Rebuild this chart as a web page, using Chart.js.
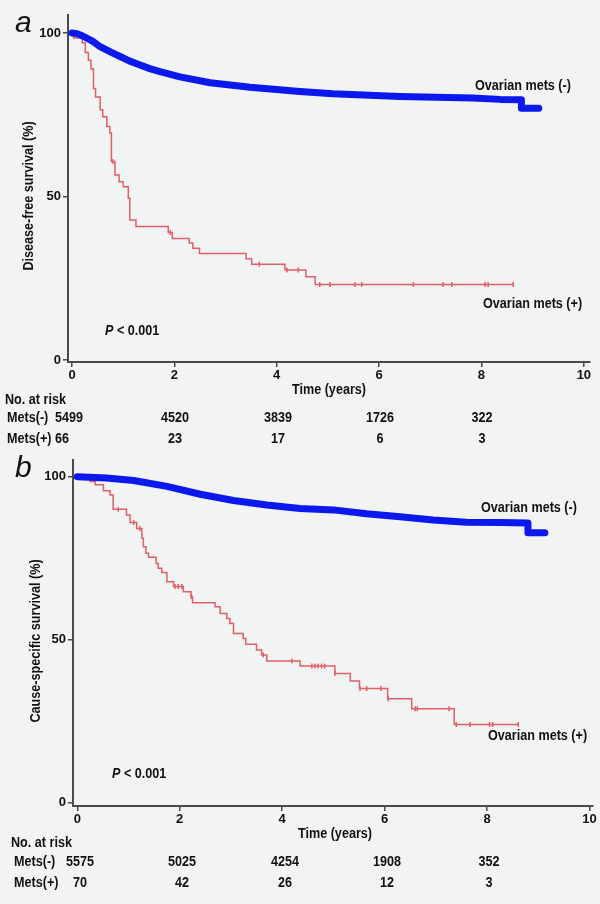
<!DOCTYPE html>
<html>
<head>
<meta charset="utf-8">
<script src="https://cdn.jsdelivr.net/npm/chart.js@4.4.1/dist/chart.umd.min.js"></script>
<style>
  body { margin: 0; background: #f2f3f3; }
  #wrap { position: relative; width: 600px; height: 904px; overflow: hidden;
          font-family: "Liberation Sans", Arial, sans-serif; font-weight: bold; font-size: 14px; color: #111; }
  canvas { position: absolute; left: 0; }
  .t { position: absolute; line-height: 1; white-space: nowrap; transform-origin: 0 50%; transform: scaleX(0.9); }
  .c { transform-origin: 50% 50%; transform: translateX(-50%) scaleX(0.9); }
  .rot { transform-origin: 50% 50%; transform: translate(-50%, -50%) rotate(-90deg) scaleX(0.9); }
  .panel { font-style: italic; font-weight: normal; font-size: 30px; transform: none; }
</style>
</head>
<body>
<div id="wrap">
  <canvas id="chartA" width="600" height="382" style="top:0"></canvas>
  <canvas id="chartB" width="600" height="386" style="top:440px"></canvas>
</div>
<script>
// ── data ────────────────────────────────────────────────────────────────────
const xTicks = [0, 2, 4, 6, 8, 10];
const yTicks = [0, 50, 100];

// (a) disease-free survival
const dfsNegT = [0, 0.1, 0.22, 0.4, 0.55, 0.75, 0.94, 1.13, 1.33, 1.52, 1.72, 2.11, 2.7, 3.48, 4.45, 5.1, 6.4, 7.83, 8.36, 8.78, 8.78, 9.12];
const dfsNegV = [100, 99.8, 99, 97.5, 95.8, 94.2, 92.8, 91.4, 90.2, 89.1, 88.2, 86.6, 84.8, 83.4, 82.1, 81.4, 80.6, 80.1, 79.7, 79.6, 77, 77];
const dfsPosT = [0, 0.03, 0.2, 0.26, 0.32, 0.37, 0.42, 0.46, 0.55, 0.6, 0.68, 0.74, 0.77, 0.84, 0.92, 1.0, 1.1, 1.13, 1.25, 1.88, 1.96, 2.29, 2.36, 2.49, 3.4, 3.51, 4.16, 4.57, 4.75, 8.62];
const dfsPosV = [100, 98.5, 97, 94, 91.7, 89, 83, 80.4, 76.5, 74.4, 71.4, 69.4, 60.7, 56.6, 54.5, 53, 49.5, 42.8, 40.8, 39, 37.2, 35.8, 34.2, 32.6, 31, 29.3, 27.5, 25.5, 23.1, 23.1];
const dfsPosCensor = [0.8, 1.92, 3.66, 4.2, 4.42, 4.84, 5.04, 5.53, 5.66, 6.67, 7.25, 7.42, 8.07, 8.13, 8.62];

// (b) cause-specific survival
const cssNegT = [0, 0.57, 1.1, 1.75, 2.4, 3.05, 3.7, 4.35, 5.0, 5.65, 6.3, 6.95, 7.6, 8.26, 8.8, 8.8, 9.13];
const cssNegV = [100, 99.6, 98.8, 97, 94.6, 92.7, 91.3, 90.2, 89.8, 88.6, 87.7, 86.7, 86.0, 85.9, 85.8, 82.8, 82.8];
const cssPosT = [0, 0.25, 0.35, 0.51, 0.64, 0.7, 0.96, 1.03, 1.16, 1.26, 1.29, 1.34, 1.39, 1.54, 1.58, 1.65, 1.75, 1.88, 2.07, 2.22, 2.25, 2.69, 2.79, 2.92, 2.98, 3.05, 3.24, 3.29, 3.5, 3.6, 3.7, 4.35, 5.03, 5.33, 5.51, 6.06, 6.53, 7.36, 8.61];
const cssPosV = [100, 98.5, 97.5, 95.7, 94.4, 90, 88.2, 85.9, 84.1, 81.1, 78.5, 76.5, 75.3, 73.4, 71.9, 70.6, 67.8, 66.3, 64.7, 63.2, 61.3, 60.1, 58, 56.5, 55, 51.9, 50.4, 48.6, 46.8, 45.3, 43.5, 41.9, 39.6, 37.3, 35, 31.9, 28.8, 24, 24];
const cssPosCensor = [0.8, 1.1, 1.22, 1.91, 1.97, 2.04, 2.23, 3.63, 4.19, 4.58, 4.64, 4.7, 4.77, 4.83, 5.03, 5.52, 5.65, 5.93, 6.07, 6.6, 6.64, 7.26, 7.4, 7.67, 8.05, 8.11, 8.61];

// numbers at risk
const riskTimes  = [0, 2, 4, 6, 8];
const dfsRiskNeg = [5499, 4520, 3839, 1726, 322];
const dfsRiskPos = [66, 23, 17, 6, 3];
const cssRiskNeg = [5575, 5025, 4254, 1908, 352];
const cssRiskPos = [70, 42, 26, 12, 3];

// ── drawing ─────────────────────────────────────────────────────────────────
const BLUE = '#0b18ee', RED = '#e05f69', AXIS = '#4a4a4a', INK = '#111';
const wrap = document.getElementById('wrap');

const pts = (ts, vs) => ts.map((t, i) => ({ x: t, y: vs[i] }));
function valueAt(ts, vs, t) {
  let v = vs[0];
  for (let i = 0; i < ts.length; i++) if (ts[i] <= t + 1e-9) v = vs[i];
  return v;
}

function kmChart(id, negT, negV, posT, posV, censor, r) {
  const tickFont = { family: '"Liberation Sans", Arial, sans-serif', size: 13, weight: 'bold' };
  return new Chart(document.getElementById(id), {
    type: 'line',
    data: {
      datasets: [
        { data: pts(negT, negV), borderColor: BLUE, borderWidth: 7, pointRadius: 0,
          borderCapStyle: 'round', borderJoinStyle: 'round' },
        { type: 'scatter', data: censor.map(t => ({ x: t, y: valueAt(posT, posV, t) })),
          pointStyle: 'line', rotation: 90, pointRadius: 2.5, borderColor: RED, borderWidth: 1.5 },
        { data: pts(posT, posV), borderColor: RED, borderWidth: 1.5, stepped: true, pointRadius: 0 }
      ]
    },
    options: {
      responsive: false, animation: false, events: [],
      layout: { padding: r.pad },
      plugins: { legend: { display: false }, tooltip: { enabled: false } },
      scales: {
        x: {
          type: 'linear', min: r.xMin, max: r.xMax,
          afterBuildTicks: s => { s.ticks = xTicks.map(v => ({ value: v })); },
          afterFit: s => { s.height = 20; },
          border: { display: true, color: AXIS, width: 2 },
          grid: { drawOnChartArea: false, drawTicks: true, tickLength: 5, color: AXIS, lineWidth: 1.5 },
          ticks: { autoSkip: false, maxRotation: 0, padding: 1, color: INK, font: tickFont }
        },
        y: {
          min: r.yMin, max: r.yMax,
          afterBuildTicks: s => { s.ticks = yTicks.map(v => ({ value: v })); },
          afterFit: s => { s.width = r.yWidth; },
          border: { display: true, color: AXIS, width: 2 },
          grid: { drawOnChartArea: false, drawTicks: true, tickLength: 5, color: AXIS, lineWidth: 1.5 },
          ticks: { padding: 2, color: INK, font: tickFont }
        }
      }
    }
  });
}

function text(html, x, cy, cls) {
  const d = document.createElement('div');
  d.className = 't ' + (cls || '');
  d.innerHTML = html;
  d.style.left = x + 'px';
  d.style.top = (cy - 7) + 'px';
  wrap.appendChild(d);
  return d;
}
function rotText(html, cx, cy) {
  const d = document.createElement('div');
  d.className = 't rot';
  d.innerHTML = html;
  d.style.left = cx + 'px';
  d.style.top = cy + 'px';
  wrap.appendChild(d);
}

function riskRows(chart, rows, shift, firstLeft) {
  rows.forEach(row => {
    row.vals.forEach((n, i) => {
      if (i === 0 && firstLeft) { text(String(n), firstLeft, row.y); return; }
      const x = chart.scales.x.getPixelForValue(riskTimes[i]) + shift;
      text(String(n), x, row.y, 'c');
    });
  });
}

const chartA = kmChart('chartA', dfsNegT, dfsNegV, dfsPosT, dfsPosV, dfsPosCensor,
  { pad: { top: 15, right: 10, left: 0, bottom: 0 }, yWidth: 68, xMin: -0.078, xMax: 10.12, yMin: -0.6, yMax: 105.5 });
const chartB = kmChart('chartB', cssNegT, cssNegV, cssPosT, cssPosV, cssPosCensor,
  { pad: { top: 20, right: 7, left: 0, bottom: 0 }, yWidth: 73, xMin: -0.084, xMax: 10.07, yMin: -1.0, yMax: 105.1 });

// panel a annotations
text('a', 15, 14.1, 'panel');
rotText('Disease-free survival (%)', 28, 195.5);
text('Time (years)', 329, 389, 'c');
text('Ovarian mets (-)', 475, 85);
text('Ovarian mets (+)', 483, 303);
text('<i>P</i> &lt; 0.001', 105, 330);
text('No. at risk', 5, 399);
text('Mets(-)', 7, 417);
text('Mets(+)', 7, 438);
riskRows(chartA, [{ y: 417, vals: dfsRiskNeg }, { y: 438, vals: dfsRiskPos }], 1, 55);

// panel b annotations
text('b', 15, 459.1, 'panel');
rotText('Cause-specific survival (%)', 35, 641);
text('Time (years)', 335, 833, 'c');
text('Ovarian mets (-)', 481, 506.7);
text('Ovarian mets (+)', 488, 735);
text('<i>P</i> &lt; 0.001', 112, 773);
text('No. at risk', 11, 842.3);
text('Mets(-)', 14, 860.7);
text('Mets(+)', 14, 881.7);
riskRows(chartB, [{ y: 860.7, vals: cssRiskNeg }, { y: 881.7, vals: cssRiskPos }], 2.5, 0);
</script>
</body>
</html>
